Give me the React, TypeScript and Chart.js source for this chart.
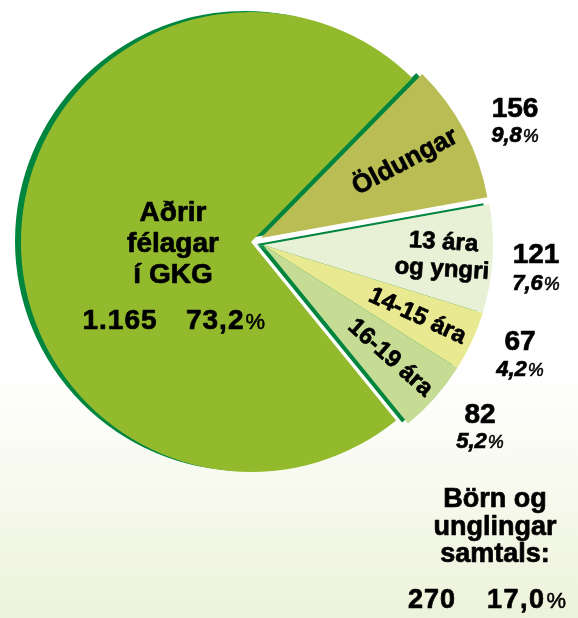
import React, { useEffect, useRef } from "react";
import { Chart, ArcElement, PieController } from "chart.js";

Chart.register(ArcElement, PieController);

// ---- data ----
const categories = ["Öldungar", "13 ára og yngri", "14-15 ára", "16-19 ára", "Aðrir félagar í GKG"];
const counts = [156, 121, 67, 82, 1165];
const countLabels = ["156", "121", "67", "82", "1.165"];
const percentLabels = ["9,8%", "7,6%", "4,2%", "5,2%", "73,2%"];
const sliceLabelLines = [["Öldungar"], ["13 ára", "og yngri"], ["14-15 ára"], ["16-19 ára"], ["Aðrir", "félagar", "í GKG"]];
const explodeGroup = [1, 2, 2, 2, 0];
const summaryLines = ["Börn og", "unglingar", "samtals:"];
const summaryCount = "270";
const summaryPercent = "17,0%";

// ---- style ----
const sliceColors = ["#b9bd54", "#e8f0d6", "#e9e992", "#c6dc95", "#93ba2d"];
const shadowColor = "#00853f";
const FONT = '"Liberation Sans", Arial, Helvetica, sans-serif';
const groupShift: [number, number][] = [
  [0, 0],
  [10, -4],
  [12, 3],
];
const shadowShift: [number, number] = [-6, -1];
const STROKE = 0.7;

function txt(ctx: CanvasRenderingContext2D, s: string, x: number, y: number) {
  ctx.lineWidth = STROKE;
  ctx.strokeStyle = "#000";
  ctx.lineJoin = "round";
  ctx.fillText(s, x, y);
  ctx.strokeText(s, x, y);
}

function drawPct(
  ctx: CanvasRenderingContext2D,
  text: string,
  x: number,
  y: number,
  size: number,
  italic: boolean,
  spacing = 0
) {
  const hasPct = text.endsWith("%");
  const main = hasPct ? text.slice(0, -1) : text;
  const it = italic ? "italic " : "";
  const mainFont = `${it}bold ${size}px ${FONT}`;
  const pctFont = `${it}normal ${Math.round(size * 0.8)}px ${FONT}`;
  (ctx as any).letterSpacing = `${spacing}px`;
  ctx.font = mainFont;
  const w1 = ctx.measureText(main).width;
  ctx.font = pctFont;
  const w2 = hasPct ? ctx.measureText("%").width + 1 : 0;
  const start = x - (w1 + w2) / 2;
  ctx.textAlign = "left";
  ctx.font = mainFont;
  txt(ctx, main, start, y);
  if (hasPct) {
    ctx.font = pctFont;
    ctx.fillText("%", start + w1 + 1, y);
    ctx.lineWidth = 0.5;
    ctx.strokeText("%", start + w1 + 1, y);
  }
  (ctx as any).letterSpacing = "0px";
}

const explodePlugin = {
  id: "explodePie",
  beforeDatasetDraw(chart: any) {
    const ctx: CanvasRenderingContext2D = chart.ctx;
    const meta = chart.getDatasetMeta(0);
    // shadows
    meta.data.forEach((arc: any, i: number) => {
      const p = arc.getProps(["x", "y", "startAngle", "endAngle", "outerRadius"], true);
      const [dx, dy] = groupShift[explodeGroup[i]];
      ctx.save();
      ctx.translate(dx + shadowShift[0], dy + shadowShift[1]);
      ctx.beginPath();
      ctx.moveTo(p.x, p.y);
      ctx.arc(p.x, p.y, p.outerRadius, p.startAngle, p.endAngle);
      ctx.closePath();
      ctx.fillStyle = shadowColor;
      ctx.fill();
      ctx.restore();
    });
    // slices
    meta.data.forEach((arc: any, i: number) => {
      const [dx, dy] = groupShift[explodeGroup[i]];
      ctx.save();
      ctx.translate(dx, dy);
      arc.draw(ctx, chart.chartArea);
      ctx.restore();
    });
    return false;
  },
  afterDatasetsDraw(chart: any) {
    const ctx: CanvasRenderingContext2D = chart.ctx;
    const meta = chart.getDatasetMeta(0);
    ctx.save();
    ctx.fillStyle = "#000";
    ctx.textBaseline = "middle";
    // labels inside the exploded slices
    for (let i = 0; i < 4; i++) {
      const arc = meta.data[i];
      const p = arc.getProps(["x", "y", "startAngle", "endAngle", "outerRadius"], true);
      const [dx, dy] = groupShift[explodeGroup[i]];
      const mid = (p.startAngle + p.endAngle) / 2;
      const lines = sliceLabelLines[i];
      const r = lines.length > 1 ? 180 : i === 0 ? 163 : 170;
      const cx = p.x + dx + Math.cos(mid) * r;
      const cy = p.y + dy + Math.sin(mid) * r;
      const size = i === 0 ? 26 : 24;
      ctx.save();
      ctx.translate(cx, cy);
      ctx.rotate(mid);
      ctx.font = `bold ${size}px ${FONT}`;
      ctx.textAlign = "center";
      const lh = 27;
      lines.forEach((ln, k) => {
        txt(ctx, ln, 0, (k - (lines.length - 1) / 2) * lh);
      });
      ctx.restore();
    }
    // label in the big slice
    ctx.textBaseline = "alphabetic";
    ctx.textAlign = "center";
    ctx.font = `bold 28px ${FONT}`;
    const big = sliceLabelLines[4];
    const bigY = [221, 252, 283];
    big.forEach((ln, k) => txt(ctx, ln, 173, bigY[k]));
    ctx.font = `bold 28px ${FONT}`;
    (ctx as any).letterSpacing = "1px";
    txt(ctx, countLabels[4], 120, 329);
    (ctx as any).letterSpacing = "0px";
    drawPct(ctx, percentLabels[4], 226, 329, 28, false, 1);

    // outside labels
    const outPos = [
      [515, 117, 142],
      [536, 263, 290],
      [520, 350, 376],
      [480, 423, 448],
    ];
    for (let i = 0; i < 4; i++) {
      const [x, y1, y2] = outPos[i];
      ctx.textAlign = "center";
      ctx.font = `bold 28px ${FONT}`;
      txt(ctx, countLabels[i], x, y1);
      drawPct(ctx, percentLabels[i], x, y2, 22, true);
    }

    // summary
    ctx.textAlign = "center";
    ctx.font = `bold 27px ${FONT}`;
    const sy = [507, 535, 562];
    summaryLines.forEach((ln, k) => txt(ctx, ln, 495, sy[k]));
    (ctx as any).letterSpacing = "1px";
    txt(ctx, summaryCount, 432, 608);
    (ctx as any).letterSpacing = "0px";
    ctx.font = `bold 27px ${FONT}`;
    (ctx as any).letterSpacing = "1.5px";
    const w = ctx.measureText(summaryPercent.slice(0, -1)).width;
    (ctx as any).letterSpacing = "0px";
    drawPct(ctx, summaryPercent, 488 + (w + 20) / 2, 608, 27, false, 1.5);
    ctx.restore();
  },
};

export default function App() {
  const ref = useRef<HTMLCanvasElement>(null);
  useEffect(() => {
    if (!ref.current) return;
    const chart = new Chart(ref.current, {
      type: "pie",
      data: {
        labels: categories,
        datasets: [
          {
            data: counts,
            backgroundColor: sliceColors,
            borderWidth: 0,
          },
        ],
      },
      options: {
        responsive: false,
        animation: false,
        devicePixelRatio: 1,
        rotation: 44.5,
        layout: { padding: { left: 21, top: 12, right: 97, bottom: 146 } },
        plugins: {
          legend: { display: false },
          tooltip: { enabled: false },
        },
        events: [],
      },
      plugins: [explodePlugin],
    });
    return () => chart.destroy();
  }, []);
  return (
    <div
      style={{
        position: "fixed",
        left: 0,
        top: 0,
        width: 578,
        height: 618,
        overflow: "hidden",
        background: "linear-gradient(to bottom, #ffffff 0px, #ffffff 370px, #edf3da 618px)",
      }}
    >
      <canvas ref={ref} width={578} height={618} style={{ display: "block" }} />
    </div>
  );
}
